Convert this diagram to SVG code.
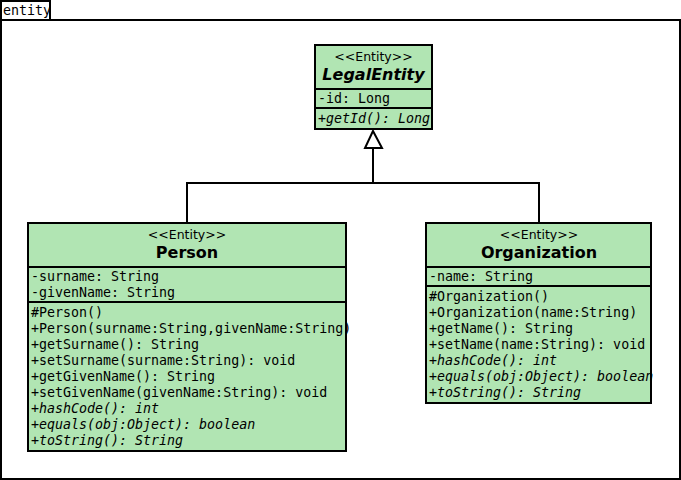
<svg xmlns="http://www.w3.org/2000/svg" width="681" height="480" viewBox="0 0 681 480">
<style>
.frame{fill:#fff;stroke:#000;stroke-width:2}
.box{fill:#b1e5b3;stroke:#000;stroke-width:2}
.sep{stroke:#000;stroke-width:2}
.st{font-family:"DejaVu Sans",sans-serif;font-size:12.5px;text-anchor:middle;fill:#000}
.nm{font-family:"DejaVu Sans",sans-serif;font-size:16px;font-weight:bold;text-anchor:middle;fill:#000}
.m{font-family:"DejaVu Sans Mono","Liberation Mono",monospace;font-size:13.3px;fill:#000}
.i{font-style:italic}
.conn{fill:none;stroke:#000;stroke-width:2}
</style>
<rect x="0" y="0" width="681" height="480" fill="#fff"/>
<g id="package">
<rect class="frame" x="1" y="20" width="679" height="459"/>
<rect class="frame" x="1" y="1" width="49" height="19"/>
<text class="m" x="3" y="15">entity</text>
</g>
<g id="connectors">
<polyline class="conn" points="187,223 187,183 539,183 539,223"/>
<line class="conn" x1="373" y1="183" x2="373" y2="148"/>
<polygon points="373,131 365,148 382,148" fill="#fff" stroke="#000" stroke-width="2"/>
</g>
<g id="LegalEntity">
<rect class="box" x="315" y="45" width="117" height="84"/>
<line class="sep" x1="315" y1="89" x2="432" y2="89"/>
<line class="sep" x1="315" y1="108" x2="432" y2="108"/>
<text class="st" x="373.5" y="61">&lt;&lt;Entity&gt;&gt;</text>
<text class="nm i" x="373.5" y="80">LegalEntity</text>
<text class="m" x="318" y="103">-id: Long</text>
<text class="m i" x="318" y="123">+getId(): Long</text>
</g>
<g id="Person">
<rect class="box" x="28" y="223" width="318" height="228"/>
<line class="sep" x1="28" y1="267" x2="346" y2="267"/>
<line class="sep" x1="28" y1="302" x2="346" y2="302"/>
<text class="st" x="187" y="239">&lt;&lt;Entity&gt;&gt;</text>
<text class="nm" x="187" y="258">Person</text>
<text class="m" x="31" y="281">-surname: String</text>
<text class="m" x="31" y="297">-givenName: String</text>
<text class="m" x="31" y="317">#Person()</text>
<text class="m" x="31" y="333">+Person(surname:String,givenName:String)</text>
<text class="m" x="31" y="349">+getSurname(): String</text>
<text class="m" x="31" y="365">+setSurname(surname:String): void</text>
<text class="m" x="31" y="381">+getGivenName(): String</text>
<text class="m" x="31" y="397">+setGivenName(givenName:String): void</text>
<text class="m i" x="31" y="413">+hashCode(): int</text>
<text class="m i" x="31" y="429">+equals(obj:Object): boolean</text>
<text class="m i" x="31" y="445">+toString(): String</text>
</g>
<g id="Organization">
<rect class="box" x="426" y="223" width="225" height="180"/>
<line class="sep" x1="426" y1="267" x2="651" y2="267"/>
<line class="sep" x1="426" y1="286" x2="651" y2="286"/>
<text class="st" x="539" y="239">&lt;&lt;Entity&gt;&gt;</text>
<text class="nm" x="539" y="258">Organization</text>
<text class="m" x="429" y="281">-name: String</text>
<text class="m" x="429" y="301">#Organization()</text>
<text class="m" x="429" y="317">+Organization(name:String)</text>
<text class="m" x="429" y="333">+getName(): String</text>
<text class="m" x="429" y="349">+setName(name:String): void</text>
<text class="m i" x="429" y="365">+hashCode(): int</text>
<text class="m i" x="429" y="381">+equals(obj:Object): boolean</text>
<text class="m i" x="429" y="397">+toString(): String</text>
</g>
</svg>
